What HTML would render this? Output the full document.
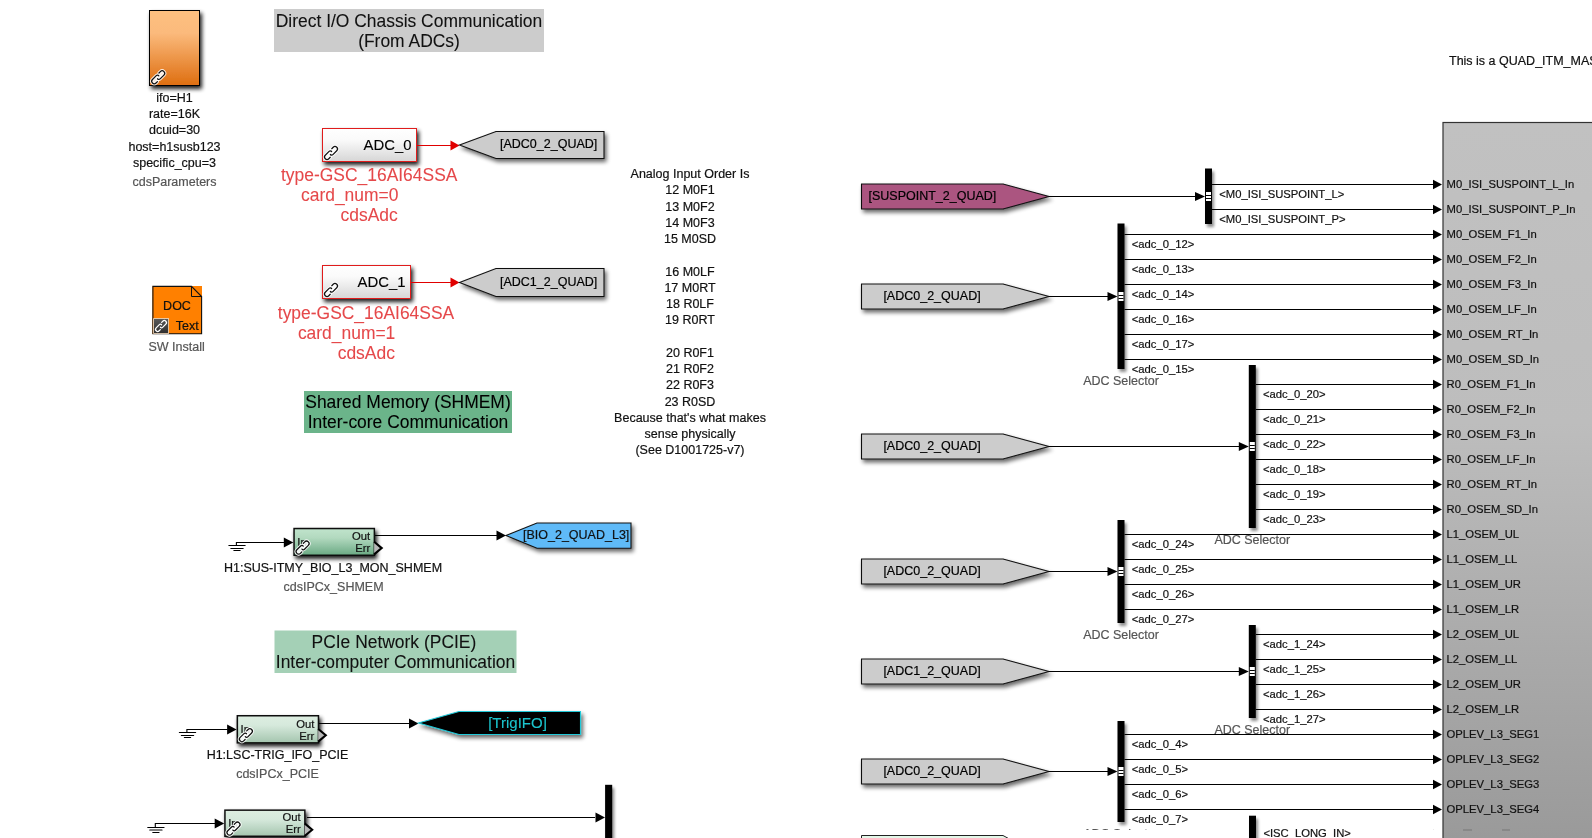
<!DOCTYPE html>
<html><head><meta charset="utf-8"><style>
html,body{margin:0;padding:0;background:#fff;width:1592px;height:838px;overflow:hidden}
svg{display:block;font-family:"Liberation Sans",sans-serif;will-change:transform}
</style></head><body>
<svg width="1592" height="838" viewBox="0 0 1592 838">
<defs>
<filter id="sh" filterUnits="userSpaceOnUse" x="0" y="0" width="1592" height="838">
<feGaussianBlur in="SourceAlpha" stdDeviation="2.2"/>
<feOffset dx="2.2" dy="2.6" result="b"/>
<feComponentTransfer><feFuncA type="linear" slope="0.9"/></feComponentTransfer>
<feMerge><feMergeNode/><feMergeNode in="SourceGraphic"/></feMerge>
</filter>
<filter id="shg" filterUnits="userSpaceOnUse" x="0" y="0" width="1592" height="838">
<feGaussianBlur in="SourceAlpha" stdDeviation="2"/>
<feOffset dx="2" dy="2.6" result="b"/>
<feComponentTransfer><feFuncA type="linear" slope="0.6"/></feComponentTransfer>
<feMerge><feMergeNode/><feMergeNode in="SourceGraphic"/></feMerge>
</filter>
<filter id="shb" filterUnits="userSpaceOnUse" x="0" y="0" width="1592" height="838">
<feGaussianBlur in="SourceAlpha" stdDeviation="1.5"/>
<feOffset dx="2" dy="2.5" result="b"/>
<feComponentTransfer><feFuncA type="linear" slope="0.45"/></feComponentTransfer>
<feMerge><feMergeNode/><feMergeNode in="SourceGraphic"/></feMerge>
</filter>
<linearGradient id="gOr" x1="0" y1="0" x2="0" y2="1">
<stop offset="0" stop-color="#fdc080"/><stop offset="0.3" stop-color="#fbba7c"/><stop offset="1" stop-color="#de6e10"/></linearGradient>
<linearGradient id="gAdc" x1="0" y1="0" x2="0" y2="1">
<stop offset="0" stop-color="#ffffff"/><stop offset="0.35" stop-color="#fafafa"/><stop offset="1" stop-color="#d6d6d6"/></linearGradient>
<linearGradient id="gIpc" x1="0" y1="0" x2="0" y2="1">
<stop offset="0" stop-color="#c0e4cc"/><stop offset="0.35" stop-color="#b2d9bf"/><stop offset="1" stop-color="#6aa983"/></linearGradient>
<linearGradient id="gIpc2" x1="0" y1="0" x2="0" y2="1">
<stop offset="0" stop-color="#ddeee1"/><stop offset="0.35" stop-color="#d6e9dc"/><stop offset="1" stop-color="#a4c5ae"/></linearGradient>
<linearGradient id="gBig" x1="0" x2="0" gradientUnits="userSpaceOnUse" y1="122" y2="838">
<stop offset="0" stop-color="#c1c1c1"/><stop offset="0.42" stop-color="#bdbdbd"/><stop offset="1" stop-color="#9a9a9a"/></linearGradient>
<clipPath id="clipB"><rect x="0" y="0" width="1592" height="830"/></clipPath>
<g id="link">
<rect x="-8" y="-2.8" width="16" height="5.6" rx="2.8" fill="#fff" fill-opacity="0.85" transform="rotate(-45)"/>
<path d="M-3.6,2.5 L-5.6,2.5 A2.5,2.5 0 0 1 -5.6,-2.5 L-0.2,-2.5 C0.9,-2.5 1.6,-1.7 1.5,-0.6 M3.6,-2.5 L5.6,-2.5 A2.5,2.5 0 0 1 5.6,2.5 L0.2,2.5 C-0.9,2.5 -1.6,1.7 -1.5,0.6" fill="none" stroke="#fff" stroke-opacity="0.85" stroke-width="3.2" stroke-linecap="round" transform="rotate(-45)"/>
<path d="M-3.6,2.5 L-5.6,2.5 A2.5,2.5 0 0 1 -5.6,-2.5 L-0.2,-2.5 C0.9,-2.5 1.6,-1.7 1.5,-0.6 M3.6,-2.5 L5.6,-2.5 A2.5,2.5 0 0 1 5.6,2.5 L0.2,2.5 C-0.9,2.5 -1.6,1.7 -1.5,0.6" fill="none" stroke="#111" stroke-width="1.25" stroke-linecap="round" transform="rotate(-45)"/>
</g>
<g id="linkw"><path d="M-3.6,2.5 L-5.6,2.5 A2.5,2.5 0 0 1 -5.6,-2.5 L-0.2,-2.5 C0.9,-2.5 1.6,-1.7 1.5,-0.6 M3.6,-2.5 L5.6,-2.5 A2.5,2.5 0 0 1 5.6,2.5 L0.2,2.5 C-0.9,2.5 -1.6,1.7 -1.5,0.6" fill="none" stroke="#fff" stroke-width="1.5" stroke-linecap="round" transform="rotate(-45)"/></g>
</defs>

<rect x="149.5" y="10.5" width="50" height="75" fill="url(#gOr)" stroke="#000" stroke-width="1" filter="url(#sh)"/>
<use href="#link" transform="translate(158.2,77.3) scale(1.0)"/>
<text x="174.5" y="101.8" font-size="12.5" fill="#111" stroke="#111" stroke-width="0.200" text-anchor="middle" >ifo=H1</text>
<text x="174.5" y="117.8" font-size="12.5" fill="#111" stroke="#111" stroke-width="0.200" text-anchor="middle" >rate=16K</text>
<text x="174.5" y="133.8" font-size="12.5" fill="#111" stroke="#111" stroke-width="0.200" text-anchor="middle" >dcuid=30</text>
<text x="174.5" y="150.6" font-size="12.5" fill="#111" stroke="#111" stroke-width="0.200" text-anchor="middle" >host=h1susb123</text>
<text x="174.5" y="166.5" font-size="12.5" fill="#111" stroke="#111" stroke-width="0.200" text-anchor="middle" >specific_cpu=3</text>
<text x="174.5" y="186" font-size="12.5" fill="#555" stroke="#555" stroke-width="0.200" text-anchor="middle" >cdsParameters</text>
<rect x="274" y="9" width="270" height="43" fill="#cccccc"/>
<text x="409" y="27" font-size="17.45" fill="#111" stroke="#111" stroke-width="0.080" text-anchor="middle" >Direct I/O Chassis Communication</text>
<text x="409" y="47" font-size="17.45" fill="#111" stroke="#111" stroke-width="0.080" text-anchor="middle" >(From ADCs)</text>
<rect x="322.5" y="128.5" width="94" height="33" fill="url(#gAdc)" stroke="#e01a1a" stroke-width="1" filter="url(#sh)"/>
<use href="#link" transform="translate(331,153) scale(1.0)"/>
<text x="411.5" y="150" font-size="14.88" fill="#000" stroke="#000" stroke-width="0.120" text-anchor="end" >ADC_0</text>
<line x1="417" y1="145.5" x2="451" y2="145.5" stroke="#e00000" stroke-width="1"/>
<polygon points="459.5,145.5 450.5,140.6 450.5,150.4" fill="#e00000"/>
<polygon points="459.5,145.0 496,131.5 604,131.5 604,158.5 496,158.5" fill="#cccccc" stroke="#111" stroke-width="1.1" filter="url(#shg)"/>
<text x="500" y="147.8" font-size="12.5" fill="#000" stroke="#000" stroke-width="0.200" text-anchor="start" >[ADC0_2_QUAD]</text>
<text x="281" y="180.9" font-size="17.45" fill="#e5484a" stroke="#e5484a" stroke-width="0.080" text-anchor="start" >type-GSC_16AI64SSA</text>
<text x="301" y="200.9" font-size="17.45" fill="#e5484a" stroke="#e5484a" stroke-width="0.080" text-anchor="start" >card_num=0</text>
<text x="340.6" y="220.9" font-size="17.45" fill="#e5484a" stroke="#e5484a" stroke-width="0.080" text-anchor="start" >cdsAdc</text>
<rect x="322.5" y="265.5" width="88" height="33" fill="url(#gAdc)" stroke="#e01a1a" stroke-width="1" filter="url(#sh)"/>
<use href="#link" transform="translate(331,290) scale(1.0)"/>
<text x="405.5" y="287" font-size="14.88" fill="#000" stroke="#000" stroke-width="0.120" text-anchor="end" >ADC_1</text>
<line x1="411" y1="282.5" x2="451" y2="282.5" stroke="#e00000" stroke-width="1"/>
<polygon points="459.5,282.5 450.5,277.6 450.5,287.4" fill="#e00000"/>
<polygon points="459.5,282.5 496,268.5 604,268.5 604,296.5 496,296.5" fill="#cccccc" stroke="#111" stroke-width="1.1" filter="url(#shg)"/>
<text x="500" y="286.1" font-size="12.5" fill="#000" stroke="#000" stroke-width="0.200" text-anchor="start" >[ADC1_2_QUAD]</text>
<text x="277.8" y="318.6" font-size="17.45" fill="#e5484a" stroke="#e5484a" stroke-width="0.080" text-anchor="start" >type-GSC_16AI64SSA</text>
<text x="297.9" y="338.6" font-size="17.45" fill="#e5484a" stroke="#e5484a" stroke-width="0.080" text-anchor="start" >card_num=1</text>
<text x="337.7" y="358.6" font-size="17.45" fill="#e5484a" stroke="#e5484a" stroke-width="0.080" text-anchor="start" >cdsAdc</text>
<rect x="152.4" y="286" width="49.6" height="48" fill="#ff8000"/>
<polygon points="152.9,286.4 191.5,286.4 201.6,296.5 201.6,333.7 152.9,333.7" fill="none" stroke="#111" stroke-width="1.1"/>
<polyline points="191.5,286.4 191.5,296.5 201.6,296.5" fill="none" stroke="#111" stroke-width="1"/>
<text x="177" y="309.5" font-size="12.5" fill="#111" stroke="#111" stroke-width="0.200" text-anchor="middle" >DOC</text>
<text x="198.8" y="330.1" font-size="12.5" fill="#111" stroke="#111" stroke-width="0.200" text-anchor="end" >Text</text>
<linearGradient id="gDk" x1="0" y1="0" x2="0" y2="1"><stop offset="0" stop-color="#5a5a5a"/><stop offset="1" stop-color="#2e2e2e"/></linearGradient>
<rect x="153.6" y="318.6" width="15" height="14.8" fill="url(#gDk)" stroke="#f3dcc4" stroke-width="0.8"/>
<use href="#linkw" transform="translate(161,326) scale(0.84)"/>
<text x="176.6" y="350.8" font-size="12.5" fill="#555" stroke="#555" stroke-width="0.200" text-anchor="middle" >SW Install</text>
<rect x="304" y="391" width="208" height="42" fill="#6bb48a"/>
<text x="408" y="408" font-size="17.45" fill="#000" stroke="#000" stroke-width="0.080" text-anchor="middle" >Shared Memory (SHMEM)</text>
<text x="408" y="428" font-size="17.45" fill="#000" stroke="#000" stroke-width="0.080" text-anchor="middle" >Inter-core Communication</text>
<line x1="228.9" y1="545.5" x2="245.10000000000002" y2="545.5" stroke="#000" stroke-width="1.2" stroke-linecap="round"/>
<line x1="230.9" y1="548.5" x2="243.10000000000002" y2="548.5" stroke="#000" stroke-width="1.2" stroke-linecap="round"/>
<line x1="233.9" y1="550.5" x2="240.10000000000002" y2="550.5" stroke="#000" stroke-width="1.2" stroke-linecap="round"/>
<polyline points="236.4,545.5 236.4,542.5 284.3,542.5" fill="none" stroke="#000" stroke-width="1.1"/>
<polygon points="293.3,542.5 283.8,537.5 283.8,547.5" fill="#000"/>
<rect x="294.05" y="528.55" width="80.30000000000001" height="26.700000000000045" fill="url(#gIpc)" stroke="#111" stroke-width="1.5" filter="url(#sh)"/>
<text x="297.3" y="545.8" font-size="11.25" fill="#111" stroke="#111" stroke-width="0.200" text-anchor="start" >In</text>
<use href="#link" transform="translate(302.6,547.6) scale(1.0)"/>
<text x="370.20000000000005" y="539.8" font-size="11.25" fill="#111" stroke="#111" stroke-width="0.200" text-anchor="end" >Out</text>
<text x="370.20000000000005" y="551.8" font-size="11.25" fill="#111" stroke="#111" stroke-width="0.200" text-anchor="end" >Err</text>
<polyline points="374.1,541.8 381.70000000000005,548.0999999999999 374.1,554.3999999999999" fill="#b8b8b8" stroke="#000" stroke-width="2.1"/>
<line x1="375" y1="535.5" x2="497" y2="535.5" stroke="#000" stroke-width="1"/>
<polygon points="506,535.5 496.5,530.5 496.5,540.5" fill="#000"/>
<polygon points="506,535.6 537,523 631,523 631,548.2 537,548.2" fill="#5fbaf8" stroke="#111" stroke-width="1.1" filter="url(#shg)"/>
<text x="523" y="539.3" font-size="12.5" fill="#111" stroke="#111" stroke-width="0.200" text-anchor="start" >[BIO_2_QUAD_L3]</text>
<text x="333" y="572" font-size="12.5" fill="#111" stroke="#111" stroke-width="0.200" text-anchor="middle" >H1:SUS-ITMY_BIO_L3_MON_SHMEM</text>
<text x="333.6" y="591" font-size="12.5" fill="#555" stroke="#555" stroke-width="0.200" text-anchor="middle" >cdsIPCx_SHMEM</text>
<rect x="274.5" y="630.5" width="242" height="42.5" fill="#a4d0b6"/>
<text x="393.9" y="648" font-size="17.45" fill="#111" stroke="#111" stroke-width="0.080" text-anchor="middle" >PCIe Network (PCIE)</text>
<text x="395.5" y="668" font-size="17.45" fill="#111" stroke="#111" stroke-width="0.080" text-anchor="middle" >Inter-computer Communication</text>
<line x1="179.4" y1="732.5" x2="195.60000000000002" y2="732.5" stroke="#000" stroke-width="1.2" stroke-linecap="round"/>
<line x1="181.4" y1="735.5" x2="193.60000000000002" y2="735.5" stroke="#000" stroke-width="1.2" stroke-linecap="round"/>
<line x1="184.4" y1="737.5" x2="190.60000000000002" y2="737.5" stroke="#000" stroke-width="1.2" stroke-linecap="round"/>
<polyline points="186.9,732.5 186.9,729.5 227.6,729.5" fill="none" stroke="#000" stroke-width="1.1"/>
<polygon points="236.6,729.5 227.1,724.5 227.1,734.5" fill="#000"/>
<rect x="237.35" y="715.75" width="81.1" height="27.100000000000023" fill="url(#gIpc2)" stroke="#111" stroke-width="1.5" filter="url(#sh)"/>
<text x="240.6" y="733" font-size="11.25" fill="#111" stroke="#111" stroke-width="0.200" text-anchor="start" >In</text>
<use href="#link" transform="translate(245.9,735.2) scale(1.0)"/>
<text x="314.3" y="727.7" font-size="11.25" fill="#111" stroke="#111" stroke-width="0.200" text-anchor="end" >Out</text>
<text x="314.3" y="739.7" font-size="11.25" fill="#111" stroke="#111" stroke-width="0.200" text-anchor="end" >Err</text>
<polyline points="318.2,729.0 325.8,735.3 318.2,741.5999999999999" fill="#b8b8b8" stroke="#000" stroke-width="2.1"/>
<line x1="319" y1="723.5" x2="409" y2="723.5" stroke="#000" stroke-width="1"/>
<polygon points="418.5,723.5 409.0,718.5 409.0,728.5" fill="#000"/>
<polygon points="418.5,723.0 459,711.5 580.5,711.5 580.5,734.5 459,734.5" fill="#000" stroke="#20c8d8" stroke-width="1.1" filter="url(#shg)"/>
<text x="488.2" y="728" font-size="15.007" fill="#1cc4cc" stroke="#1cc4cc" stroke-width="0.120" text-anchor="start" >[TrigIFO]</text>
<text x="277.5" y="759" font-size="12.5" fill="#111" stroke="#111" stroke-width="0.200" text-anchor="middle" >H1:LSC-TRIG_IFO_PCIE</text>
<text x="277.5" y="778" font-size="12.5" fill="#555" stroke="#555" stroke-width="0.200" text-anchor="middle" >cdsIPCx_PCIE</text>
<line x1="147.8" y1="827.5" x2="164.00000000000003" y2="827.5" stroke="#000" stroke-width="1.2" stroke-linecap="round"/>
<line x1="149.8" y1="830.0" x2="162.00000000000003" y2="830.0" stroke="#000" stroke-width="1.2" stroke-linecap="round"/>
<line x1="152.8" y1="832.5" x2="159.00000000000003" y2="832.5" stroke="#000" stroke-width="1.2" stroke-linecap="round"/>
<polyline points="155.3,827.5 155.3,823.5 215.2,823.5" fill="none" stroke="#000" stroke-width="1.1"/>
<polygon points="224.2,823.5 214.7,818.5 214.7,828.5" fill="#000"/>
<rect x="224.95" y="810.15" width="79.90000000000003" height="26.100000000000023" fill="url(#gIpc2)" stroke="#111" stroke-width="1.5" filter="url(#sh)"/>
<text x="228.2" y="827.4" font-size="11.25" fill="#111" stroke="#111" stroke-width="0.200" text-anchor="start" >In</text>
<use href="#link" transform="translate(233.5,828.6) scale(1.0)"/>
<text x="300.70000000000005" y="821.4" font-size="11.25" fill="#111" stroke="#111" stroke-width="0.200" text-anchor="end" >Out</text>
<text x="300.70000000000005" y="833.4" font-size="11.25" fill="#111" stroke="#111" stroke-width="0.200" text-anchor="end" >Err</text>
<polyline points="304.6,823.4 312.20000000000005,829.6999999999999 304.6,835.9999999999999" fill="#b8b8b8" stroke="#000" stroke-width="2.1"/>
<line x1="307" y1="817.5" x2="595" y2="817.5" stroke="#000" stroke-width="1"/>
<polygon points="605,817.5 595.5,812.5 595.5,822.5" fill="#000"/>
<rect x="605.1" y="784.8" width="7.1" height="60" fill="#000" filter="url(#shb)"/>
<text x="690" y="178.0" font-size="12.5" fill="#111" stroke="#111" stroke-width="0.200" text-anchor="middle" >Analog Input Order Is</text>
<text x="690" y="194.25" font-size="12.5" fill="#111" stroke="#111" stroke-width="0.200" text-anchor="middle" >12 M0F1</text>
<text x="690" y="210.5" font-size="12.5" fill="#111" stroke="#111" stroke-width="0.200" text-anchor="middle" >13 M0F2</text>
<text x="690" y="226.75" font-size="12.5" fill="#111" stroke="#111" stroke-width="0.200" text-anchor="middle" >14 M0F3</text>
<text x="690" y="243.0" font-size="12.5" fill="#111" stroke="#111" stroke-width="0.200" text-anchor="middle" >15 M0SD</text>
<text x="690" y="275.5" font-size="12.5" fill="#111" stroke="#111" stroke-width="0.200" text-anchor="middle" >16 M0LF</text>
<text x="690" y="291.75" font-size="12.5" fill="#111" stroke="#111" stroke-width="0.200" text-anchor="middle" >17 M0RT</text>
<text x="690" y="308.0" font-size="12.5" fill="#111" stroke="#111" stroke-width="0.200" text-anchor="middle" >18 R0LF</text>
<text x="690" y="324.25" font-size="12.5" fill="#111" stroke="#111" stroke-width="0.200" text-anchor="middle" >19 R0RT</text>
<text x="690" y="356.75" font-size="12.5" fill="#111" stroke="#111" stroke-width="0.200" text-anchor="middle" >20 R0F1</text>
<text x="690" y="373.0" font-size="12.5" fill="#111" stroke="#111" stroke-width="0.200" text-anchor="middle" >21 R0F2</text>
<text x="690" y="389.25" font-size="12.5" fill="#111" stroke="#111" stroke-width="0.200" text-anchor="middle" >22 R0F3</text>
<text x="690" y="405.5" font-size="12.5" fill="#111" stroke="#111" stroke-width="0.200" text-anchor="middle" >23 R0SD</text>
<text x="690" y="421.75" font-size="12.5" fill="#111" stroke="#111" stroke-width="0.200" text-anchor="middle" >Because that's what makes</text>
<text x="690" y="438.0" font-size="12.5" fill="#111" stroke="#111" stroke-width="0.200" text-anchor="middle" >sense physically</text>
<text x="690" y="454.25" font-size="12.5" fill="#111" stroke="#111" stroke-width="0.200" text-anchor="middle" >(See D1001725-v7)</text>
<rect x="1443" y="122.5" width="160" height="730" fill="url(#gBig)" stroke="#333" stroke-width="1.2"/>
<text x="1449" y="65" font-size="12.5" fill="#111" stroke="#111" stroke-width="0.200" text-anchor="start" >This is a QUAD_ITM_MASTER</text>
<text x="1446.6" y="188.0" font-size="11.25" fill="#111" stroke="#111" stroke-width="0.200" text-anchor="start" >M0_ISI_SUSPOINT_L_In</text>
<text x="1446.6" y="213.0" font-size="11.25" fill="#111" stroke="#111" stroke-width="0.200" text-anchor="start" >M0_ISI_SUSPOINT_P_In</text>
<text x="1446.6" y="238.0" font-size="11.25" fill="#111" stroke="#111" stroke-width="0.200" text-anchor="start" >M0_OSEM_F1_In</text>
<text x="1446.6" y="263.0" font-size="11.25" fill="#111" stroke="#111" stroke-width="0.200" text-anchor="start" >M0_OSEM_F2_In</text>
<text x="1446.6" y="288.0" font-size="11.25" fill="#111" stroke="#111" stroke-width="0.200" text-anchor="start" >M0_OSEM_F3_In</text>
<text x="1446.6" y="313.0" font-size="11.25" fill="#111" stroke="#111" stroke-width="0.200" text-anchor="start" >M0_OSEM_LF_In</text>
<text x="1446.6" y="338.0" font-size="11.25" fill="#111" stroke="#111" stroke-width="0.200" text-anchor="start" >M0_OSEM_RT_In</text>
<text x="1446.6" y="363.0" font-size="11.25" fill="#111" stroke="#111" stroke-width="0.200" text-anchor="start" >M0_OSEM_SD_In</text>
<text x="1446.6" y="388.0" font-size="11.25" fill="#111" stroke="#111" stroke-width="0.200" text-anchor="start" >R0_OSEM_F1_In</text>
<text x="1446.6" y="413.0" font-size="11.25" fill="#111" stroke="#111" stroke-width="0.200" text-anchor="start" >R0_OSEM_F2_In</text>
<text x="1446.6" y="438.0" font-size="11.25" fill="#111" stroke="#111" stroke-width="0.200" text-anchor="start" >R0_OSEM_F3_In</text>
<text x="1446.6" y="463.0" font-size="11.25" fill="#111" stroke="#111" stroke-width="0.200" text-anchor="start" >R0_OSEM_LF_In</text>
<text x="1446.6" y="488.0" font-size="11.25" fill="#111" stroke="#111" stroke-width="0.200" text-anchor="start" >R0_OSEM_RT_In</text>
<text x="1446.6" y="513.0" font-size="11.25" fill="#111" stroke="#111" stroke-width="0.200" text-anchor="start" >R0_OSEM_SD_In</text>
<text x="1446.6" y="538.0" font-size="11.25" fill="#111" stroke="#111" stroke-width="0.200" text-anchor="start" >L1_OSEM_UL</text>
<text x="1446.6" y="563.0" font-size="11.25" fill="#111" stroke="#111" stroke-width="0.200" text-anchor="start" >L1_OSEM_LL</text>
<text x="1446.6" y="588.0" font-size="11.25" fill="#111" stroke="#111" stroke-width="0.200" text-anchor="start" >L1_OSEM_UR</text>
<text x="1446.6" y="613.0" font-size="11.25" fill="#111" stroke="#111" stroke-width="0.200" text-anchor="start" >L1_OSEM_LR</text>
<text x="1446.6" y="638.0" font-size="11.25" fill="#111" stroke="#111" stroke-width="0.200" text-anchor="start" >L2_OSEM_UL</text>
<text x="1446.6" y="663.0" font-size="11.25" fill="#111" stroke="#111" stroke-width="0.200" text-anchor="start" >L2_OSEM_LL</text>
<text x="1446.6" y="688.0" font-size="11.25" fill="#111" stroke="#111" stroke-width="0.200" text-anchor="start" >L2_OSEM_UR</text>
<text x="1446.6" y="713.0" font-size="11.25" fill="#111" stroke="#111" stroke-width="0.200" text-anchor="start" >L2_OSEM_LR</text>
<text x="1446.6" y="738.0" font-size="11.25" fill="#111" stroke="#111" stroke-width="0.200" text-anchor="start" >OPLEV_L3_SEG1</text>
<text x="1446.6" y="763.0" font-size="11.25" fill="#111" stroke="#111" stroke-width="0.200" text-anchor="start" >OPLEV_L3_SEG2</text>
<text x="1446.6" y="788.0" font-size="11.25" fill="#111" stroke="#111" stroke-width="0.200" text-anchor="start" >OPLEV_L3_SEG3</text>
<text x="1446.6" y="813.0" font-size="11.25" fill="#111" stroke="#111" stroke-width="0.200" text-anchor="start" >OPLEV_L3_SEG4</text>
<rect x="1463" y="829.5" width="9" height="1" fill="#777"/><rect x="1502" y="829.5" width="8" height="1" fill="#777"/>
<polygon points="861.5,184.0 1003,184.0 1049,196.5 1003,209.0 861.5,209.0" fill="#ab5580" stroke="#111" stroke-width="1.1" filter="url(#shg)"/>
<text x="868.5" y="200.1" font-size="12.5" fill="#000" stroke="#000" stroke-width="0.200" text-anchor="start" >[SUSPOINT_2_QUAD]</text>
<line x1="1049" y1="196.5" x2="1196" y2="196.5" stroke="#000" stroke-width="1"/>
<polygon points="1205,196.5 1195,192.0 1195,201.0" fill="#000"/>
<rect x="1205" y="168.5" width="7" height="55.5" fill="#000" filter="url(#shb)"/>
<rect x="1206.0" y="192.0" width="5" height="9" fill="#fff"/>
<rect x="1206.0" y="195.0" width="5" height="1" fill="#000"/>
<rect x="1206.0" y="198.0" width="5" height="1" fill="#000"/>
<line x1="1212" y1="184.5" x2="1434" y2="184.5" stroke="#000" stroke-width="1"/>
<polygon points="1442,184.5 1433,179.65 1433,189.35" fill="#000"/>
<text x="1219.2" y="198.0" font-size="11.25" fill="#111" stroke="#111" stroke-width="0.200" text-anchor="start" >&lt;M0_ISI_SUSPOINT_L&gt;</text>
<line x1="1212" y1="209.5" x2="1434" y2="209.5" stroke="#000" stroke-width="1"/>
<polygon points="1442,209.5 1433,204.65 1433,214.35" fill="#000"/>
<text x="1219.2" y="223.0" font-size="11.25" fill="#111" stroke="#111" stroke-width="0.200" text-anchor="start" >&lt;M0_ISI_SUSPOINT_P&gt;</text>
<polygon points="861.5,284.0 1003,284.0 1049,296.5 1003,309.0 861.5,309.0" fill="#cccccc" stroke="#111" stroke-width="1.1" filter="url(#shg)"/>
<text x="883.4" y="300.1" font-size="12.5" fill="#000" stroke="#000" stroke-width="0.200" text-anchor="start" >[ADC0_2_QUAD]</text>
<line x1="1049" y1="296.5" x2="1108.5" y2="296.5" stroke="#000" stroke-width="1"/>
<polygon points="1117.5,296.5 1107.5,292.0 1107.5,301.0" fill="#000"/>
<rect x="1117.5" y="223.5" width="7.0" height="145.5" fill="#000" filter="url(#shb)"/>
<rect x="1118.5" y="292.0" width="5" height="9" fill="#fff"/>
<rect x="1118.5" y="295.0" width="5" height="1" fill="#000"/>
<rect x="1118.5" y="298.0" width="5" height="1" fill="#000"/>
<line x1="1124.5" y1="234.5" x2="1434" y2="234.5" stroke="#000" stroke-width="1"/>
<polygon points="1442,234.5 1433,229.65 1433,239.35" fill="#000"/>
<text x="1131.7" y="248.0" font-size="11.25" fill="#111" stroke="#111" stroke-width="0.200" text-anchor="start" >&lt;adc_0_12&gt;</text>
<line x1="1124.5" y1="259.5" x2="1434" y2="259.5" stroke="#000" stroke-width="1"/>
<polygon points="1442,259.5 1433,254.65 1433,264.35" fill="#000"/>
<text x="1131.7" y="273.0" font-size="11.25" fill="#111" stroke="#111" stroke-width="0.200" text-anchor="start" >&lt;adc_0_13&gt;</text>
<line x1="1124.5" y1="284.5" x2="1434" y2="284.5" stroke="#000" stroke-width="1"/>
<polygon points="1442,284.5 1433,279.65 1433,289.35" fill="#000"/>
<text x="1131.7" y="298.0" font-size="11.25" fill="#111" stroke="#111" stroke-width="0.200" text-anchor="start" >&lt;adc_0_14&gt;</text>
<line x1="1124.5" y1="309.5" x2="1434" y2="309.5" stroke="#000" stroke-width="1"/>
<polygon points="1442,309.5 1433,304.65 1433,314.35" fill="#000"/>
<text x="1131.7" y="323.0" font-size="11.25" fill="#111" stroke="#111" stroke-width="0.200" text-anchor="start" >&lt;adc_0_16&gt;</text>
<line x1="1124.5" y1="334.5" x2="1434" y2="334.5" stroke="#000" stroke-width="1"/>
<polygon points="1442,334.5 1433,329.65 1433,339.35" fill="#000"/>
<text x="1131.7" y="348.0" font-size="11.25" fill="#111" stroke="#111" stroke-width="0.200" text-anchor="start" >&lt;adc_0_17&gt;</text>
<line x1="1124.5" y1="359.5" x2="1434" y2="359.5" stroke="#000" stroke-width="1"/>
<polygon points="1442,359.5 1433,354.65 1433,364.35" fill="#000"/>
<text x="1131.7" y="373.0" font-size="11.25" fill="#111" stroke="#111" stroke-width="0.200" text-anchor="start" >&lt;adc_0_15&gt;</text>
<text x="1121.0" y="385" font-size="12.5" fill="#555" stroke="#555" stroke-width="0.200" text-anchor="middle" >ADC Selector</text>
<polygon points="861.5,434.0 1003,434.0 1049,446.5 1003,459.0 861.5,459.0" fill="#cccccc" stroke="#111" stroke-width="1.1" filter="url(#shg)"/>
<text x="883.4" y="450.1" font-size="12.5" fill="#000" stroke="#000" stroke-width="0.200" text-anchor="start" >[ADC0_2_QUAD]</text>
<line x1="1049" y1="446.5" x2="1239.8" y2="446.5" stroke="#000" stroke-width="1"/>
<polygon points="1248.8,446.5 1238.8,442.0 1238.8,451.0" fill="#000"/>
<rect x="1248.8" y="365" width="7.0" height="163" fill="#000" filter="url(#shb)"/>
<rect x="1249.8" y="442.0" width="5" height="9" fill="#fff"/>
<rect x="1249.8" y="445.0" width="5" height="1" fill="#000"/>
<rect x="1249.8" y="448.0" width="5" height="1" fill="#000"/>
<line x1="1255.8" y1="384.5" x2="1434" y2="384.5" stroke="#000" stroke-width="1"/>
<polygon points="1442,384.5 1433,379.65 1433,389.35" fill="#000"/>
<text x="1263.0" y="398.0" font-size="11.25" fill="#111" stroke="#111" stroke-width="0.200" text-anchor="start" >&lt;adc_0_20&gt;</text>
<line x1="1255.8" y1="409.5" x2="1434" y2="409.5" stroke="#000" stroke-width="1"/>
<polygon points="1442,409.5 1433,404.65 1433,414.35" fill="#000"/>
<text x="1263.0" y="423.0" font-size="11.25" fill="#111" stroke="#111" stroke-width="0.200" text-anchor="start" >&lt;adc_0_21&gt;</text>
<line x1="1255.8" y1="434.5" x2="1434" y2="434.5" stroke="#000" stroke-width="1"/>
<polygon points="1442,434.5 1433,429.65 1433,439.35" fill="#000"/>
<text x="1263.0" y="448.0" font-size="11.25" fill="#111" stroke="#111" stroke-width="0.200" text-anchor="start" >&lt;adc_0_22&gt;</text>
<line x1="1255.8" y1="459.5" x2="1434" y2="459.5" stroke="#000" stroke-width="1"/>
<polygon points="1442,459.5 1433,454.65 1433,464.35" fill="#000"/>
<text x="1263.0" y="473.0" font-size="11.25" fill="#111" stroke="#111" stroke-width="0.200" text-anchor="start" >&lt;adc_0_18&gt;</text>
<line x1="1255.8" y1="484.5" x2="1434" y2="484.5" stroke="#000" stroke-width="1"/>
<polygon points="1442,484.5 1433,479.65 1433,489.35" fill="#000"/>
<text x="1263.0" y="498.0" font-size="11.25" fill="#111" stroke="#111" stroke-width="0.200" text-anchor="start" >&lt;adc_0_19&gt;</text>
<line x1="1255.8" y1="509.5" x2="1434" y2="509.5" stroke="#000" stroke-width="1"/>
<polygon points="1442,509.5 1433,504.65 1433,514.35" fill="#000"/>
<text x="1263.0" y="523.0" font-size="11.25" fill="#111" stroke="#111" stroke-width="0.200" text-anchor="start" >&lt;adc_0_23&gt;</text>
<text x="1252.3" y="544" font-size="12.5" fill="#555" stroke="#555" stroke-width="0.200" text-anchor="middle" >ADC Selector</text>
<polygon points="861.5,559.0 1003,559.0 1049,571.5 1003,584.0 861.5,584.0" fill="#cccccc" stroke="#111" stroke-width="1.1" filter="url(#shg)"/>
<text x="883.4" y="575.1" font-size="12.5" fill="#000" stroke="#000" stroke-width="0.200" text-anchor="start" >[ADC0_2_QUAD]</text>
<line x1="1049" y1="571.5" x2="1108.5" y2="571.5" stroke="#000" stroke-width="1"/>
<polygon points="1117.5,571.5 1107.5,567.0 1107.5,576.0" fill="#000"/>
<rect x="1117.5" y="520" width="7.0" height="103" fill="#000" filter="url(#shb)"/>
<rect x="1118.5" y="567.0" width="5" height="9" fill="#fff"/>
<rect x="1118.5" y="570.0" width="5" height="1" fill="#000"/>
<rect x="1118.5" y="573.0" width="5" height="1" fill="#000"/>
<line x1="1124.5" y1="534.5" x2="1434" y2="534.5" stroke="#000" stroke-width="1"/>
<polygon points="1442,534.5 1433,529.65 1433,539.35" fill="#000"/>
<text x="1131.7" y="548.0" font-size="11.25" fill="#111" stroke="#111" stroke-width="0.200" text-anchor="start" >&lt;adc_0_24&gt;</text>
<line x1="1124.5" y1="559.5" x2="1434" y2="559.5" stroke="#000" stroke-width="1"/>
<polygon points="1442,559.5 1433,554.65 1433,564.35" fill="#000"/>
<text x="1131.7" y="573.0" font-size="11.25" fill="#111" stroke="#111" stroke-width="0.200" text-anchor="start" >&lt;adc_0_25&gt;</text>
<line x1="1124.5" y1="584.5" x2="1434" y2="584.5" stroke="#000" stroke-width="1"/>
<polygon points="1442,584.5 1433,579.65 1433,589.35" fill="#000"/>
<text x="1131.7" y="598.0" font-size="11.25" fill="#111" stroke="#111" stroke-width="0.200" text-anchor="start" >&lt;adc_0_26&gt;</text>
<line x1="1124.5" y1="609.5" x2="1434" y2="609.5" stroke="#000" stroke-width="1"/>
<polygon points="1442,609.5 1433,604.65 1433,614.35" fill="#000"/>
<text x="1131.7" y="623.0" font-size="11.25" fill="#111" stroke="#111" stroke-width="0.200" text-anchor="start" >&lt;adc_0_27&gt;</text>
<text x="1121.0" y="639" font-size="12.5" fill="#555" stroke="#555" stroke-width="0.200" text-anchor="middle" >ADC Selector</text>
<polygon points="861.5,659.0 1003,659.0 1049,671.5 1003,684.0 861.5,684.0" fill="#cccccc" stroke="#111" stroke-width="1.1" filter="url(#shg)"/>
<text x="883.4" y="675.1" font-size="12.5" fill="#000" stroke="#000" stroke-width="0.200" text-anchor="start" >[ADC1_2_QUAD]</text>
<line x1="1049" y1="671.5" x2="1239.8" y2="671.5" stroke="#000" stroke-width="1"/>
<polygon points="1248.8,671.5 1238.8,667.0 1238.8,676.0" fill="#000"/>
<rect x="1248.8" y="625" width="7.0" height="93" fill="#000" filter="url(#shb)"/>
<rect x="1249.8" y="667.0" width="5" height="9" fill="#fff"/>
<rect x="1249.8" y="670.0" width="5" height="1" fill="#000"/>
<rect x="1249.8" y="673.0" width="5" height="1" fill="#000"/>
<line x1="1255.8" y1="634.5" x2="1434" y2="634.5" stroke="#000" stroke-width="1"/>
<polygon points="1442,634.5 1433,629.65 1433,639.35" fill="#000"/>
<text x="1263.0" y="648.0" font-size="11.25" fill="#111" stroke="#111" stroke-width="0.200" text-anchor="start" >&lt;adc_1_24&gt;</text>
<line x1="1255.8" y1="659.5" x2="1434" y2="659.5" stroke="#000" stroke-width="1"/>
<polygon points="1442,659.5 1433,654.65 1433,664.35" fill="#000"/>
<text x="1263.0" y="673.0" font-size="11.25" fill="#111" stroke="#111" stroke-width="0.200" text-anchor="start" >&lt;adc_1_25&gt;</text>
<line x1="1255.8" y1="684.5" x2="1434" y2="684.5" stroke="#000" stroke-width="1"/>
<polygon points="1442,684.5 1433,679.65 1433,689.35" fill="#000"/>
<text x="1263.0" y="698.0" font-size="11.25" fill="#111" stroke="#111" stroke-width="0.200" text-anchor="start" >&lt;adc_1_26&gt;</text>
<line x1="1255.8" y1="709.5" x2="1434" y2="709.5" stroke="#000" stroke-width="1"/>
<polygon points="1442,709.5 1433,704.65 1433,714.35" fill="#000"/>
<text x="1263.0" y="723.0" font-size="11.25" fill="#111" stroke="#111" stroke-width="0.200" text-anchor="start" >&lt;adc_1_27&gt;</text>
<text x="1252.3" y="734" font-size="12.5" fill="#555" stroke="#555" stroke-width="0.200" text-anchor="middle" >ADC Selector</text>
<polygon points="861.5,759.0 1003,759.0 1049,771.5 1003,784.0 861.5,784.0" fill="#cccccc" stroke="#111" stroke-width="1.1" filter="url(#shg)"/>
<text x="883.4" y="775.1" font-size="12.5" fill="#000" stroke="#000" stroke-width="0.200" text-anchor="start" >[ADC0_2_QUAD]</text>
<line x1="1049" y1="771.5" x2="1108.5" y2="771.5" stroke="#000" stroke-width="1"/>
<polygon points="1117.5,771.5 1107.5,767.0 1107.5,776.0" fill="#000"/>
<rect x="1117.5" y="721" width="7.0" height="101" fill="#000" filter="url(#shb)"/>
<rect x="1118.5" y="767.0" width="5" height="9" fill="#fff"/>
<rect x="1118.5" y="770.0" width="5" height="1" fill="#000"/>
<rect x="1118.5" y="773.0" width="5" height="1" fill="#000"/>
<line x1="1124.5" y1="734.5" x2="1434" y2="734.5" stroke="#000" stroke-width="1"/>
<polygon points="1442,734.5 1433,729.65 1433,739.35" fill="#000"/>
<text x="1131.7" y="748.0" font-size="11.25" fill="#111" stroke="#111" stroke-width="0.200" text-anchor="start" >&lt;adc_0_4&gt;</text>
<line x1="1124.5" y1="759.5" x2="1434" y2="759.5" stroke="#000" stroke-width="1"/>
<polygon points="1442,759.5 1433,754.65 1433,764.35" fill="#000"/>
<text x="1131.7" y="773.0" font-size="11.25" fill="#111" stroke="#111" stroke-width="0.200" text-anchor="start" >&lt;adc_0_5&gt;</text>
<line x1="1124.5" y1="784.5" x2="1434" y2="784.5" stroke="#000" stroke-width="1"/>
<polygon points="1442,784.5 1433,779.65 1433,789.35" fill="#000"/>
<text x="1131.7" y="798.0" font-size="11.25" fill="#111" stroke="#111" stroke-width="0.200" text-anchor="start" >&lt;adc_0_6&gt;</text>
<line x1="1124.5" y1="809.5" x2="1434" y2="809.5" stroke="#000" stroke-width="1"/>
<polygon points="1442,809.5 1433,804.65 1433,814.35" fill="#000"/>
<text x="1131.7" y="823.0" font-size="11.25" fill="#111" stroke="#111" stroke-width="0.200" text-anchor="start" >&lt;adc_0_7&gt;</text>
<g clip-path="url(#clipB)">
<text x="1121.0" y="837.6" font-size="12.5" fill="#555" stroke="#555" stroke-width="0.200" text-anchor="middle" >ADC Selector</text>
</g>
<rect x="1249" y="815.7" width="7" height="44.299999999999955" fill="#000" filter="url(#shb)"/>
<g clip-path="url(#clipB)">
<polygon points="1442,834.5 1433,829.65 1433,839.35" fill="#000"/>
</g>
<text x="1263.4" y="837.3" font-size="11.25" fill="#111" stroke="#111" stroke-width="0.200" text-anchor="start" >&lt;ISC_LONG_IN&gt;</text>
<polygon points="861.5,835.5 1003,835.5 1048,860 1003,880 861.5,880" fill="#e2f7e8" stroke="#222" stroke-width="1"/>
</svg></body></html>
